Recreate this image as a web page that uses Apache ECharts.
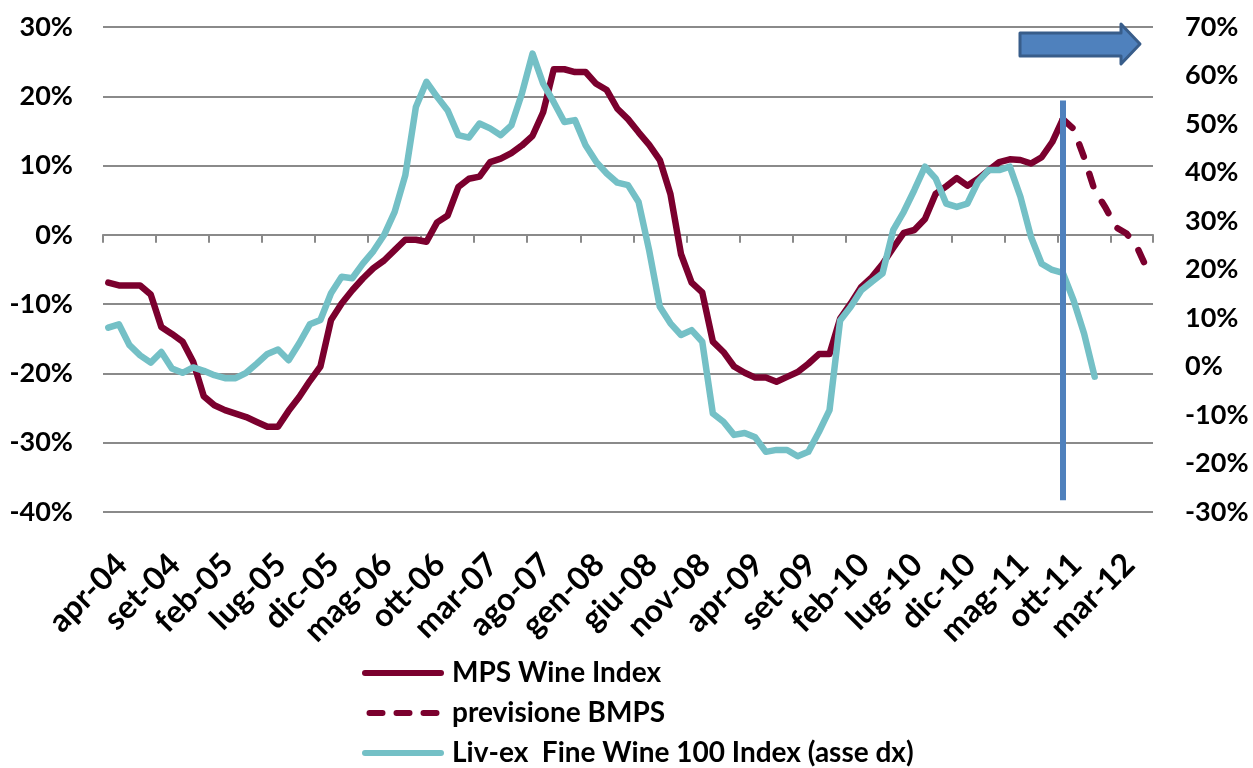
<!DOCTYPE html>
<html>
<head>
<meta charset="utf-8">
<script src="https://cdn.jsdelivr.net/npm/echarts@6/dist/echarts.min.js"></script>
<style>
html,body{margin:0;padding:0;background:#fff;}
#chart{width:1253px;height:768px;}
</style>
</head>
<body>
<div id="chart"></div>
<script>
// Monthly categories apr-04 .. giu-12
const categories = [
  'apr-04','mag-04','giu-04','lug-04','ago-04','set-04','ott-04','nov-04','dic-04',
  'gen-05','feb-05','mar-05','apr-05','mag-05','giu-05','lug-05','ago-05','set-05','ott-05','nov-05','dic-05',
  'gen-06','feb-06','mar-06','apr-06','mag-06','giu-06','lug-06','ago-06','set-06','ott-06','nov-06','dic-06',
  'gen-07','feb-07','mar-07','apr-07','mag-07','giu-07','lug-07','ago-07','set-07','ott-07','nov-07','dic-07',
  'gen-08','feb-08','mar-08','apr-08','mag-08','giu-08','lug-08','ago-08','set-08','ott-08','nov-08','dic-08',
  'gen-09','feb-09','mar-09','apr-09','mag-09','giu-09','lug-09','ago-09','set-09','ott-09','nov-09','dic-09',
  'gen-10','feb-10','mar-10','apr-10','mag-10','giu-10','lug-10','ago-10','set-10','ott-10','nov-10','dic-10',
  'gen-11','feb-11','mar-11','apr-11','mag-11','giu-11','lug-11','ago-11','set-11','ott-11','nov-11','dic-11',
  'gen-12','feb-12','mar-12','apr-12','mag-12','giu-12'
];

// MPS Wine Index (left axis, %), apr-04 .. ott-11
const mpsWine = [
  -6.9,-7.3,-7.3,-7.3,-8.6,-13.3,-14.3,-15.4,-18.3,
  -23.3,-24.6,-25.3,-25.8,-26.3,-27.0,-27.7,-27.7,-25.4,-23.4,-21.1,-19.0,
  -12.3,-9.9,-8.0,-6.3,-4.8,-3.7,-2.2,-0.7,-0.7,-1.0,1.8,2.8,
  6.9,8.1,8.4,10.5,11.0,11.8,12.9,14.3,17.7,23.9,23.9,23.5,
  23.5,21.8,20.9,18.2,16.7,14.8,13.0,10.8,5.9,-2.8,-6.9,-8.3,
  -15.4,-16.9,-19.0,-19.9,-20.6,-20.6,-21.2,-20.5,-19.8,-18.6,-17.2,-17.2,
  -12.1,-9.9,-7.5,-6.1,-4.2,-1.9,0.3,0.7,2.3,5.9,7.0,8.2,
  7.1,8.1,9.3,10.5,10.9,10.8,10.3,11.2,13.4,16.7
];

// previsione BMPS (left axis, %), ott-11 .. giu-12
const forecastStart = 90;
const forecastBMPS = [16.7,15.3,11.2,6.4,4.0,1.1,0.2,-1.8,-5.1];

// Liv-ex Fine Wine 100 Index (right axis, %), apr-04 .. gen-12
const livex = [
  8.0,8.7,4.4,2.3,0.8,3.0,-0.4,-1.3,-0.2,
  -0.9,-1.8,-2.4,-2.4,-1.3,0.6,2.6,3.5,1.3,4.8,8.7,9.6,
  15.1,18.5,18.2,21.2,23.8,27.1,31.9,39.4,53.5,58.7,55.6,52.8,
  47.7,47.2,50.1,49.1,47.7,49.7,56.3,64.5,58.3,54.5,50.4,50.8,
  45.6,42.2,39.8,37.9,37.4,33.9,23.9,12.3,8.9,6.5,7.5,5.1,
  -9.7,-11.4,-14.1,-13.7,-14.6,-17.6,-17.2,-17.2,-18.5,-17.6,-13.5,-9.0,
  9.5,12.3,15.7,17.5,19.2,28.1,31.9,36.4,41.2,38.8,33.6,32.9,
  33.6,38.1,40.5,40.5,41.2,35.0,26.7,21.2,19.9,19.3,13.7,6.8,
  -2.1
];

// Left axis ticks and right axis ticks
const leftTicks = [-40,-30,-20,-10,0,10,20,30];
const rightTicks = [-30,-20,-10,0,10,20,30,40,50,60,70];

// Vertical divider (left-axis values) at ott-11
const dividerCategory = 'ott-11';
const dividerRange = [19.4, -38.3];

const seriesNames = ['MPS Wine Index','previsione BMPS','Liv-ex  Fine Wine 100 Index (asse dx)'];

const RED = '#7B002E';
const TEAL = '#74C0C6';
const BLUE = '#4F81BD';
const GRID = '#8a8a8a';
const FONT = 'Lato';

const forecastData = categories.map((c, i) =>
  (i >= forecastStart && i - forecastStart < forecastBMPS.length) ? forecastBMPS[i - forecastStart] : null);

const SOLID_ICON = 'path://M3,0H79A3,3,0,0,1,79,6H3A3,3,0,0,1,3,0Z';
const DASH_ICON = 'path://M3,0H16A3,3,0,0,1,16,6H3A3,3,0,0,1,3,0Z M30,0H43A3,3,0,0,1,43,6H30A3,3,0,0,1,30,0Z M57,0H70A3,3,0,0,1,70,6H57A3,3,0,0,1,57,0Z';

// Labels every 5 months, split across two label axes so that neighbouring
// rotated labels never get auto-hidden as overlapping.
function labelAxis(offsetIdx) {
  return {
    type:'category', data:categories, position:'bottom', boundaryGap:true,
    axisLine:{show:false, onZero:false}, axisTick:{show:false}, splitLine:{show:false},
    axisLabel:{
      interval:(i) => i % 10 === offsetIdx,
      rotate:45, margin:34, align:'right', verticalAlign:'top', lineHeight:38,
      hideOverlap:false,
      fontFamily:FONT, fontWeight:'bold', fontSize:32, color:'#000'
    }
  };
}

const chart = echarts.init(document.getElementById('chart'), null, {renderer:'canvas'});
chart.setOption({
  animation:false,
  backgroundColor:'#fff',
  textStyle:{fontFamily:FONT, fontWeight:'bold', color:'#000'},
  grid:{left:103, right:100, top:27, bottom:256, containLabel:false},
  legend:{
    orient:'vertical', left:362, top:659, bottom:0, padding:0,
    itemWidth:82, itemHeight:6, itemGap:12,
    symbolKeepAspect:true,
    data:[
      {name:seriesNames[0], icon:SOLID_ICON},
      {name:seriesNames[1], icon:DASH_ICON},
      {name:seriesNames[2], icon:SOLID_ICON}
    ],
    textStyle:{fontFamily:FONT, fontWeight:'bold', fontSize:28, lineHeight:28, color:'#000', padding:[0,0,0,3]}
  },
  xAxis:[
    labelAxis(0),
    {
      type:'category', data:categories, position:'bottom', boundaryGap:true,
      axisLine:{show:true, onZero:true, onZeroAxisIndex:0, lineStyle:{color:GRID, width:2}},
      axisTick:{show:true, interval:4, length:8, lineStyle:{color:GRID, width:2}},
      axisLabel:{show:false}, splitLine:{show:false}
    },
    labelAxis(5)
  ],
  yAxis:[
    {
      type:'value', min:leftTicks[0], max:leftTicks[leftTicks.length-1], interval:10,
      axisLine:{show:false}, axisTick:{show:false},
      splitLine:{show:true, lineStyle:{color:GRID, width:2}},
      axisLabel:{margin:30, formatter:'{value}%', fontFamily:FONT, fontWeight:'bold', fontSize:27, color:'#000'}
    },
    {
      type:'value', min:rightTicks[0], max:rightTicks[rightTicks.length-1], interval:10,
      axisLine:{show:false}, axisTick:{show:false}, splitLine:{show:false},
      axisLabel:{margin:32, formatter:'{value}%', fontFamily:FONT, fontWeight:'bold', fontSize:27, color:'#000'}
    }
  ],
  series:[
    {
      name:seriesNames[0], type:'line', xAxisIndex:0, yAxisIndex:0, data:mpsWine,
      symbol:'none', connectNulls:false, z:2,
      lineStyle:{color:RED, width:6.5, join:'round', cap:'round'}, itemStyle:{color:RED}
    },
    {
      name:seriesNames[1], type:'line', xAxisIndex:0, yAxisIndex:0, data:forecastData,
      symbol:'none', z:2,
      lineStyle:{color:RED, width:6.5, type:[13,18], cap:'round', join:'round'}, itemStyle:{color:RED}
    },
    {
      name:seriesNames[2], type:'line', xAxisIndex:0, yAxisIndex:1, data:livex,
      symbol:'none', z:3,
      lineStyle:{color:TEAL, width:6.5, join:'round', cap:'round'}, itemStyle:{color:TEAL}
    },
    {
      name:'divider', type:'line', xAxisIndex:0, yAxisIndex:0, data:[],
      z:5, silent:true,
      markLine:{
        silent:true, symbol:['none','none'], label:{show:false},
        lineStyle:{color:BLUE, width:6, type:'solid'},
        data:[[{coord:[dividerCategory, dividerRange[0]]},{coord:[dividerCategory, dividerRange[1]]}]]
      }
    }
  ],
  graphic:[
    {
      type:'polygon', z:10,
      shape:{points:[[1020,33],[1121,33],[1121,24],[1140,44],[1121,64],[1121,56],[1020,56]]},
      style:{fill:BLUE, stroke:'#385D8A', lineWidth:3, lineJoin:'round'}
    }
  ]
});
</script>
</body>
</html>
